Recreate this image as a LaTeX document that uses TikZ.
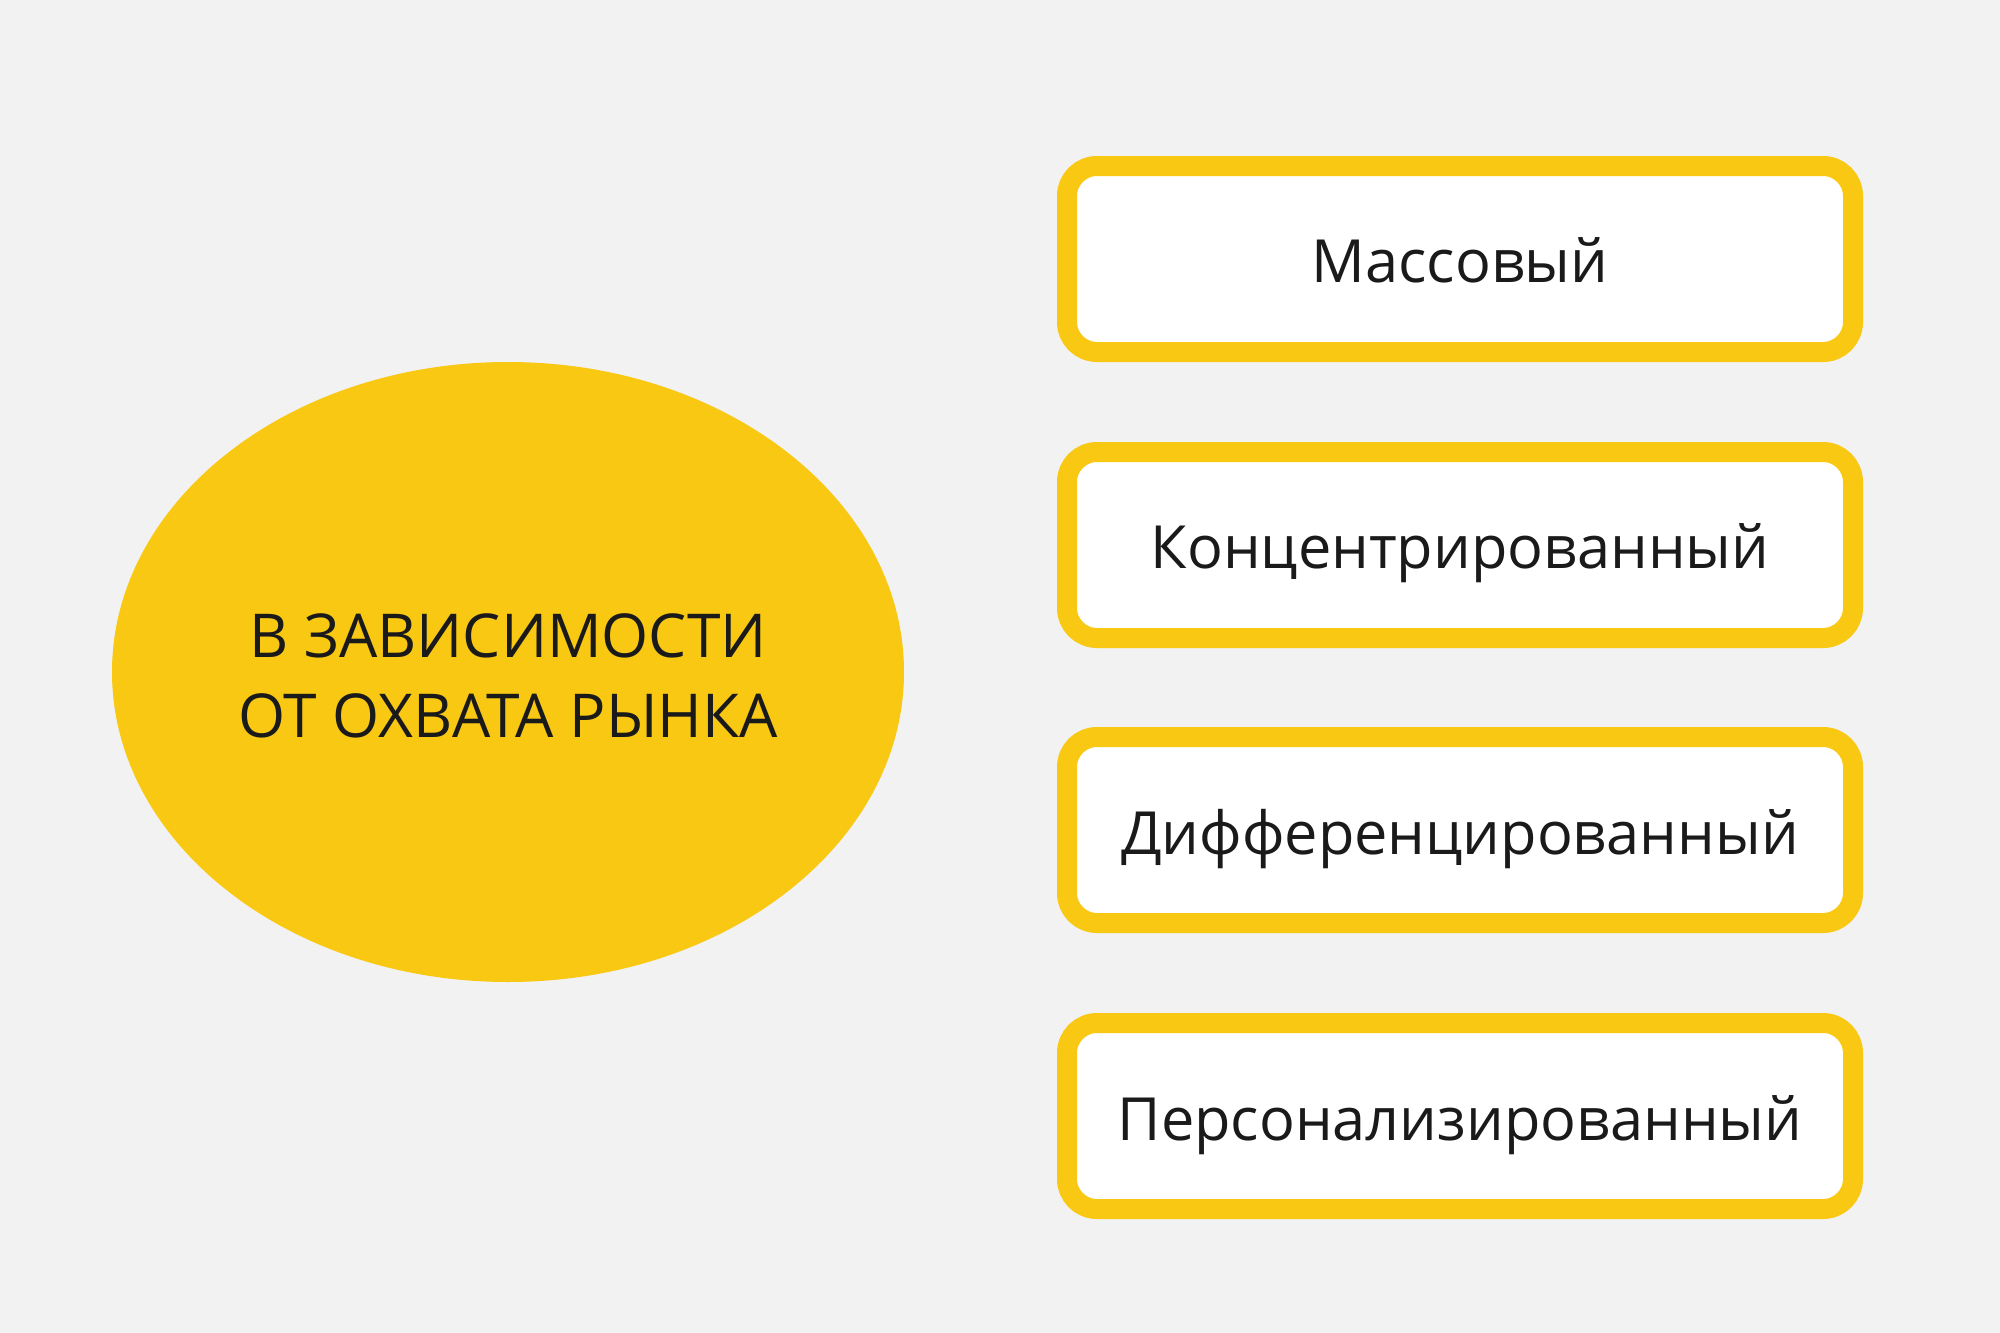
\documentclass[tikz,border=0pt]{standalone}
\usepackage{fontspec}
\setmainfont{Open Sans}
\usetikzlibrary{shapes.geometric}
\definecolor{bg}{HTML}{F2F2F2}
\definecolor{ylw}{HTML}{F8C813}
\definecolor{txt}{HTML}{1A1A1A}
\begin{document}
\begin{tikzpicture}[x=1pt,y=-1pt,
  catbox/.style={draw=ylw, line width=20pt, fill=white, rounded corners=30pt,
    minimum width=786pt, minimum height=186pt, inner sep=0pt, outer sep=0pt},
  cattext/.style={text=txt, inner sep=0pt, anchor=base, font=\fontsize{59.5}{72}\selectfont},
  hub/.style={ellipse, fill=ylw, minimum width=792pt, minimum height=620pt,
    inner sep=0pt},
  hubtext/.style={text=txt, align=center, inner sep=0pt, anchor=base, font=\fontsize{60.5}{80}\selectfont}]
\fill[bg] (0,0) rectangle (2000,1333);
\useasboundingbox (0,0) rectangle (2000,1333);
\node[hub] (h) at (508,672) {};
\node[hubtext] (ht) at (508,737) {В ЗАВИСИМОСТИ\\ОТ ОХВАТА РЫНКА};
\node[catbox] (b1) at (1460,259) {};
\node[catbox] (b2) at (1460,545) {};
\node[catbox] (b3) at (1460,830) {};
\node[catbox] (b4) at (1460,1116) {};
\node[cattext] (t1) at (1460,282) {Массовый};
\node[cattext] (t2) at (1460,568) {Концентрированный};
\node[cattext] (t3) at (1460,854) {Дифференцированный};
\node[cattext] (t4) at (1460,1140) {Персонализированный};
\end{tikzpicture}
\end{document}
